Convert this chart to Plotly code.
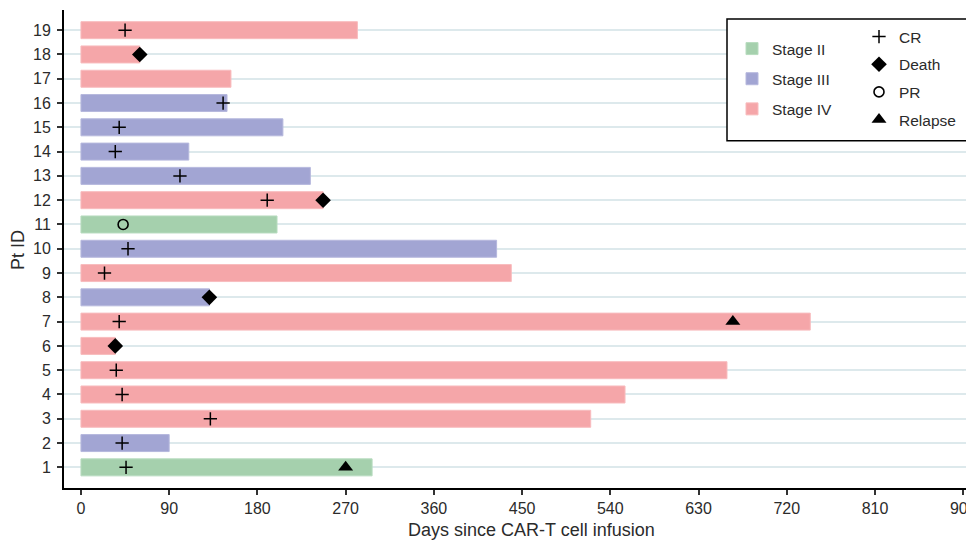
import plotly.graph_objects as go

# ---- data ----
pt_ids = list(range(1, 20))
stages = ["Stage II", "Stage III", "Stage IV", "Stage IV", "Stage IV", "Stage IV", "Stage IV",
          "Stage III", "Stage IV", "Stage III", "Stage II", "Stage IV", "Stage III", "Stage III",
          "Stage III", "Stage III", "Stage IV", "Stage IV", "Stage IV"]
durations = [297, 90, 520, 555, 659, 35, 744, 131, 439, 424, 200, 247, 234, 110, 206, 149, 153, 60, 282]

cr_pt = [1, 2, 3, 4, 5, 7, 9, 10, 12, 13, 14, 15, 16, 19]
cr_day = [46, 42, 132, 42, 36, 39, 24, 48, 190, 101, 35, 39, 145, 45]
death_pt = [6, 8, 12, 18]
death_day = [35, 131, 247, 60]
pr_pt = [11]
pr_day = [43]
relapse_pt = [1, 7]
relapse_day = [270, 665]

x_ticks = [0, 90, 180, 270, 360, 450, 540, 630, 720, 810, 900]

stage_colors = {"Stage II": "#a5d0ad", "Stage III": "#a2a5d3", "Stage IV": "#f5a6a9"}
stage_edges = {"Stage II": "#b8dcbf", "Stage III": "#b6b8dd", "Stage IV": "#f8bcbe"}

FONT = "Liberation Sans, Arial, Helvetica, sans-serif"
OFF = 8  # page body margin in the screenshot
W, H = 966, 534
L, R, T, B = 56, 0, 2, 54
pw, ph = W - L - R, H - T - B

def px_x(p):
    return (p - OFF - L) / pw

def px_y(p):
    return 1 - (p - OFF - T) / ph

fig = go.Figure()

for st in ["Stage II", "Stage III", "Stage IV"]:
    xs = [d for d, s in zip(durations, stages) if s == st]
    ys = [p for p, s in zip(pt_ids, stages) if s == st]
    fig.add_trace(go.Bar(
        x=xs, y=ys, base=0, orientation="h", width=0.7, name=st,
        marker=dict(color=stage_colors[st], line=dict(color=stage_edges[st], width=1)),
        legend="legend", legendgroup=st,
    ))

fig.add_trace(go.Scatter(x=cr_day, y=cr_pt, mode="markers", name="CR",
                         marker=dict(symbol="cross-thin", size=9.5, color="black",
                                     line=dict(color="black", width=1.5)),
                         legend="legend2", legendgroup="CR"))
fig.add_trace(go.Scatter(x=death_day, y=death_pt, mode="markers", name="Death",
                         marker=dict(symbol="diamond", size=12, color="black"),
                         legend="legend2", legendgroup="Death"))
fig.add_trace(go.Scatter(x=pr_day, y=pr_pt, mode="markers", name="PR",
                         marker=dict(symbol="circle-open", size=10, color="black",
                                     line=dict(color="black", width=1.6)),
                         legend="legend2", legendgroup="PR"))
fig.add_trace(go.Scatter(x=relapse_day, y=relapse_pt, mode="markers", name="Relapse",
                         marker=dict(symbol="triangle-up", size=13, color="black"),
                         legend="legend2", legendgroup="Relapse"))

fig.update_layout(
    width=W, height=H,
    margin=dict(l=L, r=R, t=T, b=B, pad=0, autoexpand=False),
    paper_bgcolor="white", plot_bgcolor="white",
    barmode="overlay",
    font=dict(family=FONT, size=15, color="#2b2b2b"),
    xaxis=dict(range=[-17.3, 911], tickvals=x_ticks, ticktext=[str(v) for v in x_ticks],
               showgrid=False, zeroline=False, showline=True, linecolor="black", linewidth=2,
               ticks="outside", ticklen=5, tickwidth=1.5, tickcolor="#333333",
               ticklabeloverflow="allow",
               tickfont=dict(size=16, color="#2b2b2b")),
    yaxis=dict(range=[0.15, 19.83], tickvals=pt_ids, ticktext=[str(v) for v in pt_ids],
               showgrid=True, gridcolor="#dde9ec", gridwidth=1.5, zeroline=False,
               showline=True, linecolor="black", linewidth=2,
               ticks="outside", ticklen=5, tickwidth=1.5, tickcolor="#333333",
               ticklabelstandoff=3,
               tickfont=dict(size=16, color="#2b2b2b")),
    legend=dict(x=px_x(732), y=px_y(32), xanchor="left", yanchor="top",
                bgcolor="rgba(0,0,0,0)", borderwidth=0, tracegroupgap=7,
                font=dict(size=15.5, color="#2b2b2b"), itemclick=False),
    legend2=dict(x=px_x(859), y=px_y(20), xanchor="left", yanchor="top",
                 bgcolor="rgba(0,0,0,0)", borderwidth=0, tracegroupgap=4.5,
                 font=dict(size=15.5, color="#2b2b2b"), itemclick=False),
    shapes=[dict(type="rect", xref="paper", yref="paper",
                 x0=px_x(727), x1=1.03, y0=px_y(140.7), y1=px_y(19),
                 line=dict(color="black", width=1.5), fillcolor="white", layer="above")],
    annotations=[
        dict(text="Days since CAR-T cell infusion", xref="paper", yref="paper",
             x=px_x(531), y=px_y(530), xanchor="center", yanchor="middle",
             showarrow=False, font=dict(size=18, color="#2b2b2b")),
        dict(text="Pt ID", xref="paper", yref="paper", textangle=-90,
             x=px_x(18), y=px_y(250), xanchor="center", yanchor="middle",
             showarrow=False, font=dict(size=18, color="#2b2b2b")),
    ],
)

fig.write_html("out.html")
